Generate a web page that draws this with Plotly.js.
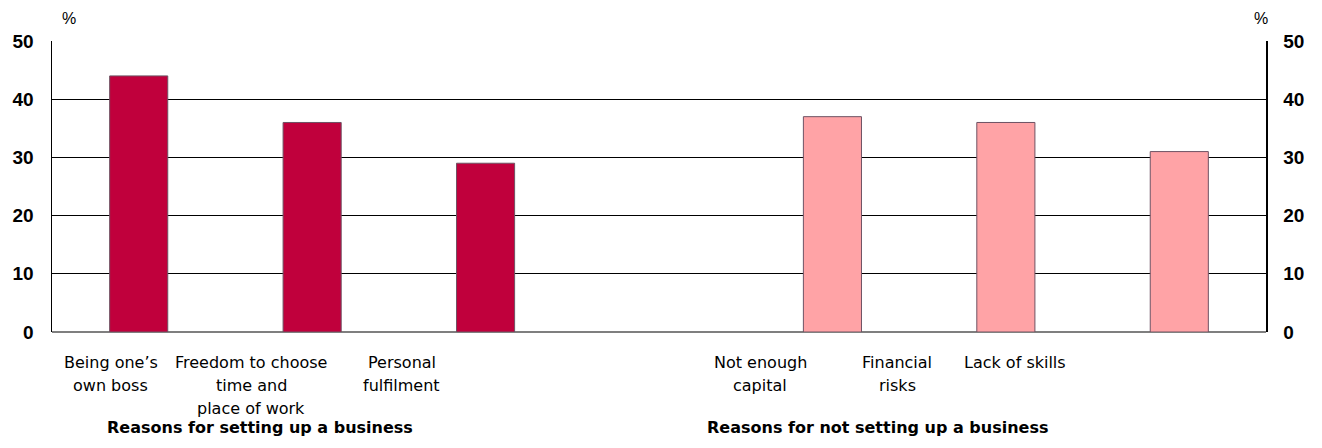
<!DOCTYPE html>
<html>
<head>
<meta charset="utf-8">
<script src="https://cdn.plot.ly/plotly-3.0.1.min.js"></script>
<style>
  html, body { margin: 0; padding: 0; background: #ffffff; }
  #chart { width: 1322px; height: 448px; }
</style>
</head>
<body>
<div id="chart"></div>
<script>
// Survey shares (%), two groups of reasons
const startReasons = ['Being one’s<br>own boss', 'Freedom to choose<br>time and<br>place of work', 'Personal<br>fulfilment'];
const startValues = [44, 36, 29];
const notStartReasons = ['Not enough<br>capital', 'Financial<br>risks', 'Lack of skills'];
const notStartValues = [37, 36, 31];
const groupTitles = ['Reasons for setting up a business', 'Reasons for not setting up a business'];
const yTicks = [0, 10, 20, 30, 40, 50];

// slot positions on the numeric x axis (slot 3 is the gap between groups)
const startSlots = [0, 1, 2];
const notStartSlots = [4, 5, 6];

const barOutline = { color: '#6e5263', width: 1 };

const traces = [
  {
    type: 'bar', x: startSlots, y: startValues, width: 0.335,
    marker: { color: '#c0003c', line: barOutline },
    hoverinfo: 'skip', yaxis: 'y'
  },
  {
    type: 'bar', x: notStartSlots, y: notStartValues, width: 0.335,
    marker: { color: '#ffa3a6', line: barOutline },
    hoverinfo: 'skip', yaxis: 'y2'
  }
];

const labelFont = { family: 'DejaVu Sans, Verdana, sans-serif', size: 16, color: '#000000' };
const tickFont = { family: 'Liberation Sans Narrow, Arial Narrow, Liberation Sans, Arial, sans-serif', size: 19, color: '#000000', weight: 'bold' };

const annotations = [];
// category labels, one annotation per text line
const labelX = [-0.16, 0.648, 1.518, 3.583, 4.373, 5.054];
const allLabels = startReasons.concat(notStartReasons);
allLabels.forEach((txt, i) => {
  txt.split('<br>').forEach((line, j) => {
    annotations.push({
      xref: 'x', yref: 'paper', x: labelX[i], y: 0,
      xanchor: 'center', yanchor: 'middle', yshift: -30 - 23 * j,
      text: line, showarrow: false, font: labelFont
    });
  });
});
// group titles
const titleX = [0.70, 4.26];
groupTitles.forEach((t, i) => {
  annotations.push({
    xref: 'x', yref: 'paper', x: titleX[i], y: 0,
    xanchor: 'center', yanchor: 'middle', yshift: -95,
    text: '<b>' + t + '</b>', showarrow: false, font: labelFont
  });
});
// unit markers
[-0.4, 6.47].forEach(xx => {
  annotations.push({
    xref: 'x', yref: 'paper', x: xx, y: 1, xanchor: 'center', yanchor: 'middle', yshift: 23,
    text: '%', showarrow: false,
    font: { family: 'Liberation Sans, Arial, sans-serif', size: 16, color: '#000000' }
  });
});

const yBase = {
  range: [0, 50], tickvals: yTicks, ticktext: yTicks.map(String),
  tickfont: tickFont, ticks: '',
  showline: true, linecolor: '#000000', linewidth: 1.5,
  fixedrange: true
};

const layout = {
  width: 1322, height: 448,
  margin: { l: 52, r: 56, t: 41, b: 116 },
  paper_bgcolor: '#ffffff', plot_bgcolor: '#ffffff',
  showlegend: false, barmode: 'overlay',
  xaxis: {
    range: [-0.5, 6.5], showticklabels: false, ticks: '',
    showgrid: false, zeroline: false, showline: false, fixedrange: true
  },
  yaxis: Object.assign({}, yBase, {
    side: 'left', ticklabelstandoff: 13,
    showgrid: true, gridcolor: '#000000', gridwidth: 1,
    zeroline: true, zerolinecolor: '#7f7f7f', zerolinewidth: 2
  }),
  yaxis2: Object.assign({}, yBase, {
    side: 'right', overlaying: 'y', ticklabelstandoff: 12,
    showgrid: false, zeroline: false
  }),
  annotations: annotations
};

Plotly.newPlot('chart', traces, layout, { staticPlot: true, displayModeBar: false });
</script>
</body>
</html>
